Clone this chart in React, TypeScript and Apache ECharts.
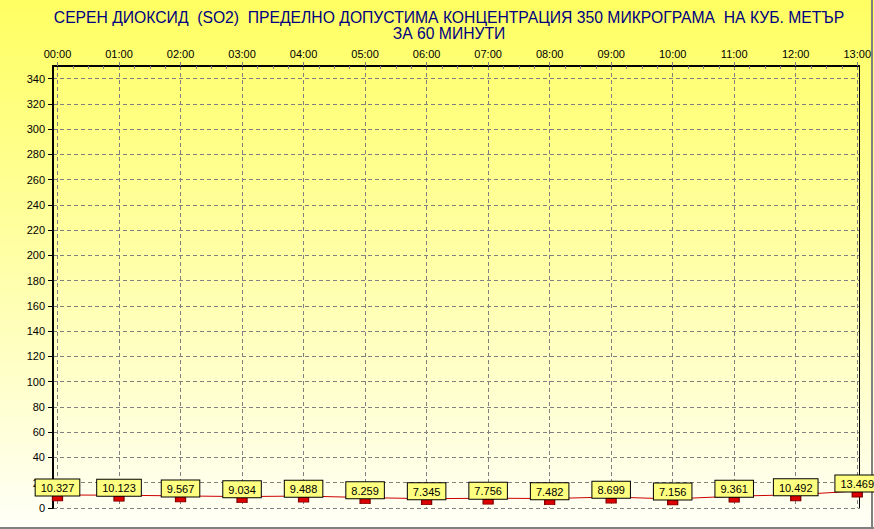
import React, { useEffect, useRef } from "react";
import * as echarts from "echarts";

const hours: string[] = ["00:00","01:00","02:00","03:00","04:00","05:00","06:00","07:00","08:00","09:00","10:00","11:00","12:00","13:00"];
const so2Values: number[] = [10.327, 10.123, 9.567, 9.034, 9.488, 8.259, 7.345, 7.756, 7.482, 8.699, 7.156, 9.361, 10.492, 13.469];
const hourTicks: number[] = hours.map((_, i) => i);
const quarterTicks: number[] = [];
for (let h = 0; h < 13; h++) { quarterTicks.push(h + 0.25, h + 0.5, h + 0.75); }

const titleText = "СЕРЕН ДИОКСИД  (SO2)  ПРЕДЕЛНО ДОПУСТИМА КОНЦЕНТРАЦИЯ 350 МИКРОГРАМА  НА КУБ. МЕТЪР\nЗА 60 МИНУТИ";
const FONT = "Arial, 'Liberation Sans', sans-serif";

export default function App() {
  const ref = useRef<HTMLDivElement>(null);
  useEffect(() => {
    if (!ref.current) return;
    const chart = echarts.init(ref.current, undefined, { renderer: "svg" });
    const dashed = { color: "#808080", type: [4, 3] as any, width: 1 };
    chart.setOption({
      animation: false,
      backgroundColor: {
        type: "linear", x: 0, y: 0, x2: 0, y2: 1,
        colorStops: [
          { offset: 0, color: "#ffff62" },
          { offset: 0.5, color: "#ffffa8" },
          { offset: 1, color: "#fffff8" },
        ],
      },
      title: {
        text: titleText,
        left: 444,
        top: 4,
        textAlign: "center",
        textStyle: { color: "#000080", fontSize: 15.7, fontWeight: "normal", fontFamily: FONT, lineHeight: 16 },
      },
      grid: { left: 53, right: 12, top: 66, bottom: 21 },
      xAxis: [
        {
          type: "value",
          position: "top",
          min: -0.073,
          max: 13.032,
          axisLine: { show: true, onZero: false, lineStyle: { color: "#000", width: 2 } },
          axisTick: { show: true, customValues: hourTicks, length: 4, lineStyle: { color: "#808080" } },
          axisLabel: {
            customValues: hourTicks,
            formatter: (v: number) => hours[Math.round(v)] ?? "",
            color: "#000000",
            fontSize: 11,
            fontFamily: FONT,
            margin: 7,
          },
          splitLine: { show: true, lineStyle: dashed },
        },
        {
          type: "value",
          position: "top",
          min: -0.073,
          max: 13.032,
          axisLine: { show: false, onZero: false },
          axisTick: { show: true, customValues: quarterTicks, inside: true, length: 3, lineStyle: { color: "#808080" } },
          axisLabel: { show: false },
          splitLine: { show: false },
        },
      ],
      yAxis: [
        {
          type: "value",
          min: 0,
          max: 350,
          interval: 20,
          axisLine: { show: true, onZero: false, lineStyle: { color: "#000", width: 2 } },
          axisTick: { show: true, length: 5, lineStyle: { color: "#000" } },
          axisLabel: {
            color: "#000",
            fontSize: 11,
            fontFamily: FONT,
            margin: 8,
            showMaxLabel: false,
            formatter: (v: number) => (v > 340 ? "" : String(v)),
          },
          splitLine: { show: true, lineStyle: dashed },
        },
        {
          type: "value",
          position: "right",
          min: 0,
          max: 350,
          axisLine: { show: true, onZero: false, lineStyle: { color: "#000", width: 1 } },
          axisTick: { show: false },
          axisLabel: { show: false },
          splitLine: { show: false },
        },
      ],
      series: [
        {
          type: "line",
          data: so2Values.map((v, i) => [hourTicks[i], v]),
          xAxisIndex: 0,
          yAxisIndex: 0,
          lineStyle: { color: "#cc0000", width: 1 },
          symbol: "rect",
          symbolSize: [10, 6],
          symbolOffset: [0, 3],
          itemStyle: { color: "#dd0000", borderColor: "#800000", borderWidth: 1 },
          label: {
            show: true,
            position: "top",
            distance: -1,
            formatter: (p: any) => Number(p.value[1]).toFixed(3),
            backgroundColor: "#ffff80",
            borderColor: "#000",
            borderWidth: 1,
            padding: [2, 5, 1, 5],
            color: "#000",
            fontSize: 11,
            fontFamily: FONT,
            lineHeight: 13,
          },
          z: 5,
        },
      ],
      graphic: [
        { type: "line", shape: { x1: 0, y1: 528, x2: 874, y2: 528 }, style: { stroke: "#808080", lineWidth: 2 } },
        { type: "line", shape: { x1: 872, y1: 0, x2: 872, y2: 529 }, style: { stroke: "#808080", lineWidth: 2 } },
      ],
    });
    return () => chart.dispose();
  }, []);
  return (
    <div
      ref={ref}
      style={{ position: "fixed", left: 0, top: 0, width: 874, height: 529 }}
    />
  );
}
